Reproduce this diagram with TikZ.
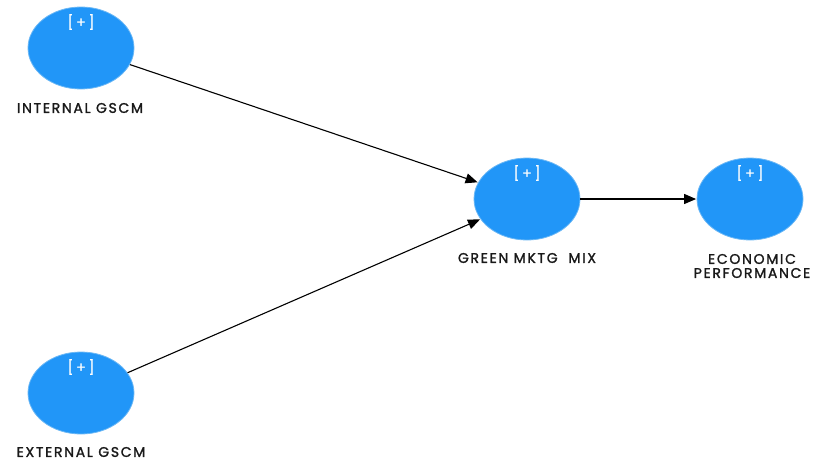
\documentclass[tikz,border=0pt]{standalone}
\usepackage{fontspec}
\setmainfont{Poppins}
\newfontfamily\lblfont{Poppins}[LetterSpace=12,FakeBold=1.5]
\newfontfamily\plusfont{Poppins}[LetterSpace=20,FakeBold=1.2]
\usetikzlibrary{arrows.meta,shapes.geometric}
\definecolor{lvblue}{HTML}{2196F8}
\definecolor{lvedge}{HTML}{6CB8F5}
\begin{document}
\begin{tikzpicture}[x=1pt,y=-1pt,
  lv/.style={ellipse,fill=lvblue,draw=lvedge,line width=0.8pt,minimum width=106pt,minimum height=82pt,inner sep=0pt},
  plus/.style={text=white,font=\plusfont\fontsize{14}{14}\selectfont},
  lbl/.style={font=\lblfont\fontsize{14}{14}\selectfont,align=center,text=black!90},
  path/.style={draw=black,line width=1.1pt,-{Triangle[length=12pt,width=10pt]},shorten >=0.5pt}]
\useasboundingbox (0,0) rectangle (813,461);
\node[lv] (int) at (81,48) {};
\node[lv] (ext) at (81,393) {};
\node[lv] (gm) at (527,199) {};
\node[lv] (ep) at (750,199) {};
\node[plus] at (81,22) {[+]};
\node[plus] at (81,367) {[+]};
\node[plus] at (527,173) {[+]};
\node[plus] at (750,173) {[+]};
\node[lbl] (lint) at (80,108) {INTERNAL GSCM};
\node[lbl] (lext) at (81,452) {EXTERNAL GSCM};
\node[lbl] (lgm) at (527,258) {GREEN MKTG\ \ MIX};
\node[lbl] (lep) at (752,266) {ECONOMIC\\PERFORMANCE};
\draw[path] (int) -- (gm);
\draw[path] (ext) -- (gm);
\draw[path] (gm) -- (ep);
\end{tikzpicture}
\end{document}
